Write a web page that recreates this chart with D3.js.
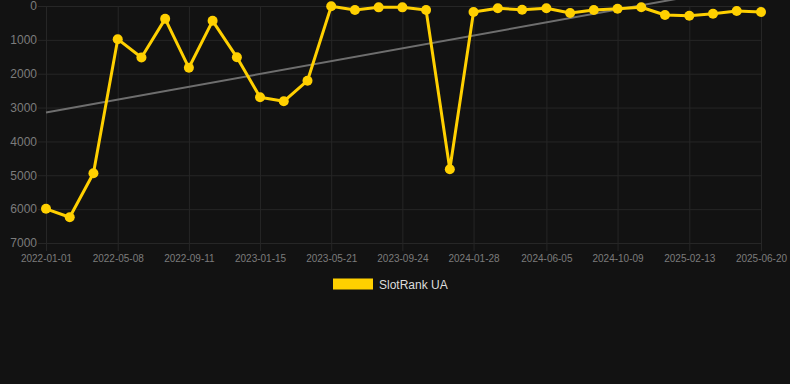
<!DOCTYPE html>
<html>
<head>
<meta charset="utf-8">
<script src="https://cdn.jsdelivr.net/npm/d3@7"></script>
<style>
    html, body { margin: 0; padding: 0; background: #121212; }
    svg { display: block; font-family: "Liberation Sans", Arial, sans-serif; }
</style>
</head>
<body>
<div id="chart"></div>
<script>
// Dates of each data point
const dates = [
    "2022-01-01", "2022-02-12", "2022-03-26", "2022-05-08", "2022-06-19", "2022-07-31",
    "2022-09-11", "2022-10-23", "2022-12-05", "2023-01-15", "2023-02-26", "2023-04-09",
    "2023-05-21", "2023-07-02", "2023-08-13", "2023-09-24", "2023-11-05", "2023-12-17",
    "2024-01-28", "2024-03-11", "2024-04-23", "2024-06-05", "2024-07-17", "2024-08-28",
    "2024-10-09", "2024-11-20", "2025-01-01", "2025-02-13", "2025-03-27", "2025-05-08",
    "2025-06-20"
];

// SlotRank UA values (rank, lower is better)
const rankValues = [
    5990, 6240, 4940, 980, 1520, 380, 1825, 438, 1515, 2697, 2815,
    2206, 10, 118, 40, 40, 118, 4820, 177, 68, 109, 68,
    207, 118, 80, 38, 266, 286, 227, 148, 177
];

const xTickLabels = [
    "2022-01-01", "2022-05-08", "2022-09-11", "2023-01-15", "2023-05-21", "2023-09-24",
    "2024-01-28", "2024-06-05", "2024-10-09", "2025-02-13", "2025-06-20"
];
const yTicks = [0, 1000, 2000, 3000, 4000, 5000, 6000, 7000];
const seriesName = "SlotRank UA";

const width = 790;
const height = 384;
const plot = { left: 46, right: 761, top: 6, bottom: 243 };

const parseDate = d3.timeParse("%Y-%m-%d");
const data = dates.map((d, i) => ({ date: parseDate(d), value: rankValues[i] }));
const tickDates = xTickLabels.map(parseDate);

const xScale = d3.scaleTime()
    .domain([parseDate(dates[0]), parseDate(dates[dates.length - 1])])
    .range([plot.left, plot.right]);

const yScale = d3.scaleLinear()
    .domain([0, 7000])
    .range([plot.top, plot.bottom]);

const svg = d3.select("#chart")
    .append("svg")
    .attr("width", width)
    .attr("height", height);

svg.append("rect")
    .attr("width", width)
    .attr("height", height)
    .attr("fill", "#121212");

// Horizontal grid + y labels
const yAxis = d3.axisLeft(yScale)
    .tickValues(yTicks)
    .tickSize(-(plot.right - plot.left) - 8)
    .tickPadding(2)
    .tickFormat(d3.format("d"));
const gy = svg.append("g")
    .attr("transform", `translate(${plot.left - 8},0)`)
    .call(yAxis);
gy.select(".domain").remove();
gy.selectAll(".tick line").attr("stroke", "#262626").attr("stroke-width", 1);
gy.selectAll(".tick text")
    .attr("x", -1)
    .attr("fill", "#7c7c7c")
    .style("font-size", "12px");

// Vertical grid + x labels
const xAxis = d3.axisBottom(xScale)
    .tickValues(tickDates)
    .tickSize(-(plot.bottom - plot.top) - 8)
    .tickPadding(6)
    .tickFormat(d3.timeFormat("%Y-%m-%d"));
const gx = svg.append("g")
    .attr("transform", `translate(0,${plot.bottom + 8})`)
    .call(xAxis);
gx.select(".domain").remove();
gx.selectAll(".tick line").attr("stroke", "#262626").attr("stroke-width", 1);
gx.selectAll(".tick text")
    .attr("y", 4)
    .attr("fill", "#7c7c7c")
    .style("font-size", "10px");

// Linear trend (least squares over time)
const xs = data.map(d => +d.date);
const meanX = d3.mean(xs);
const meanY = d3.mean(data, d => d.value);
const slope = d3.sum(data, d => (+d.date - meanX) * (d.value - meanY)) /
    d3.sum(xs, x => (x - meanX) * (x - meanX));
const intercept = meanY - slope * meanX;
const trend = [data[0].date, data[data.length - 1].date]
    .map(d => ({ date: d, value: intercept + slope * +d }));

svg.append("path")
    .datum(trend)
    .attr("fill", "none")
    .attr("stroke", "#6e6e6e")
    .attr("stroke-width", 2)
    .attr("d", d3.line().x(d => xScale(d.date)).y(d => yScale(d.value)));

// Series line
svg.append("path")
    .datum(data)
    .attr("fill", "none")
    .attr("stroke", "#ffd000")
    .attr("stroke-width", 3)
    .attr("stroke-linejoin", "round")
    .attr("d", d3.line().x(d => xScale(d.date)).y(d => yScale(d.value)));

// Points
svg.selectAll(".dot")
    .data(data)
    .enter().append("circle")
    .attr("class", "dot")
    .attr("cx", d => xScale(d.date))
    .attr("cy", d => yScale(d.value))
    .attr("r", 5)
    .attr("fill", "#ffd000");

// Legend
svg.append("rect")
    .attr("x", 333)
    .attr("y", 278.5)
    .attr("width", 40)
    .attr("height", 11)
    .attr("fill", "#ffd000");
svg.append("text")
    .attr("x", 379)
    .attr("y", 289)
    .attr("fill", "#dddddd")
    .style("font-size", "12px")
    .text(seriesName);
</script>
</body>
</html>
